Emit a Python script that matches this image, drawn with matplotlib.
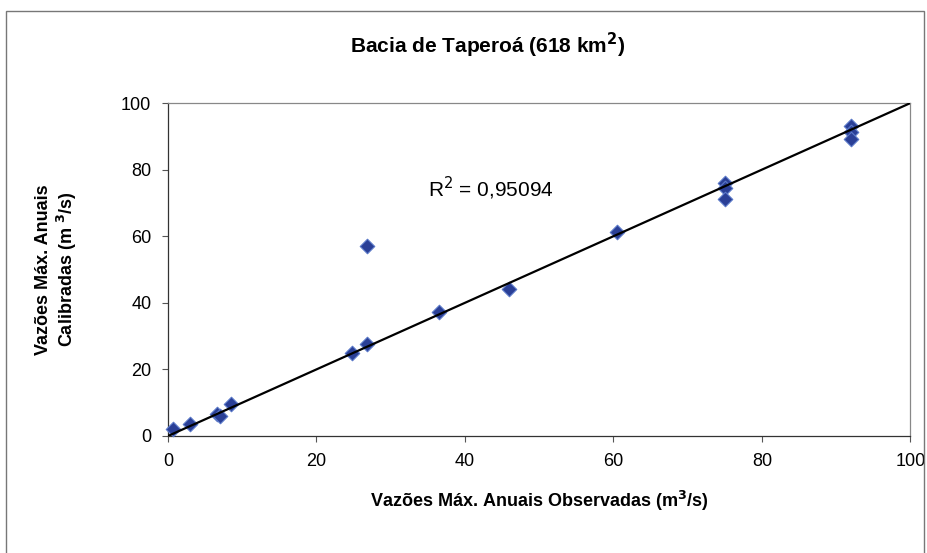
import numpy as np
import matplotlib.pyplot as plt
from matplotlib.patches import Rectangle

plt.rcParams['font.family'] = ['Liberation Sans', 'DejaVu Sans']

# observed vs calibrated annual max flows (m3/s)
obs = [0.7, 3.0, 6.6, 7.0, 8.5, 24.8, 26.8, 26.8, 36.5, 46.0, 60.5, 75.0, 75.0, 75.0, 92.0, 92.0, 92.0]
cal = [2.0, 3.6, 6.6, 6.0, 9.6, 25.0, 27.6, 57.0, 37.2, 44.3, 61.3, 76.0, 74.5, 71.2, 93.2, 91.3, 89.2]
trend_x = [0, 100]
trend_y = [0, 100]
xticks = [0, 20, 40, 60, 80, 100]
yticks = [0, 20, 40, 60, 80, 100]

fig = plt.figure(figsize=(9.28, 5.53), dpi=100)
ax = fig.add_axes([0.181, 0.2116, 0.8, 0.602])

ax.scatter(obs, cal, marker='D', s=55, color='#2a3f96', edgecolors='#5a78c8',
           linewidths=0.8, zorder=3, clip_on=False)
ax.plot(trend_x, trend_y, color='black', lw=1.6, zorder=4)

ax.set_xlim(0, 100)
ax.set_ylim(0, 100)
ax.set_xticks(xticks)
ax.set_yticks(yticks)
ax.tick_params(labelsize=13, length=4, color='#555555', pad=8)
for s in ax.spines.values():
    s.set_color('#888888')
    s.set_linewidth(0.9)
ax.spines['left'].set_color('#333333')
ax.spines['bottom'].set_color('#333333')

ax.text(35, 72, r'R$^2$ = 0,95094', fontsize=15)

fig.text(0.525, 0.918, r'Bacia de Taperoá (618 km$^\mathbf{2}$)', ha='center', va='center',
         fontsize=15, fontweight='bold')
ax.set_xlabel(r'Vazões Máx. Anuais Observadas (m$^\mathbf{3}$/s)', fontsize=13,
              fontweight='bold', labelpad=14)
ax.set_ylabel('Vazões Máx. Anuais\n' + r'Calibradas (m $^\mathbf{3}$/s)', fontsize=13,
              fontweight='bold', labelpad=30)

fig.patches.append(Rectangle((0.006, -0.01), 0.99, 0.99, transform=fig.transFigure,
                             fill=False, edgecolor='#777777', lw=1))

fig.savefig('out.png', dpi=100)
